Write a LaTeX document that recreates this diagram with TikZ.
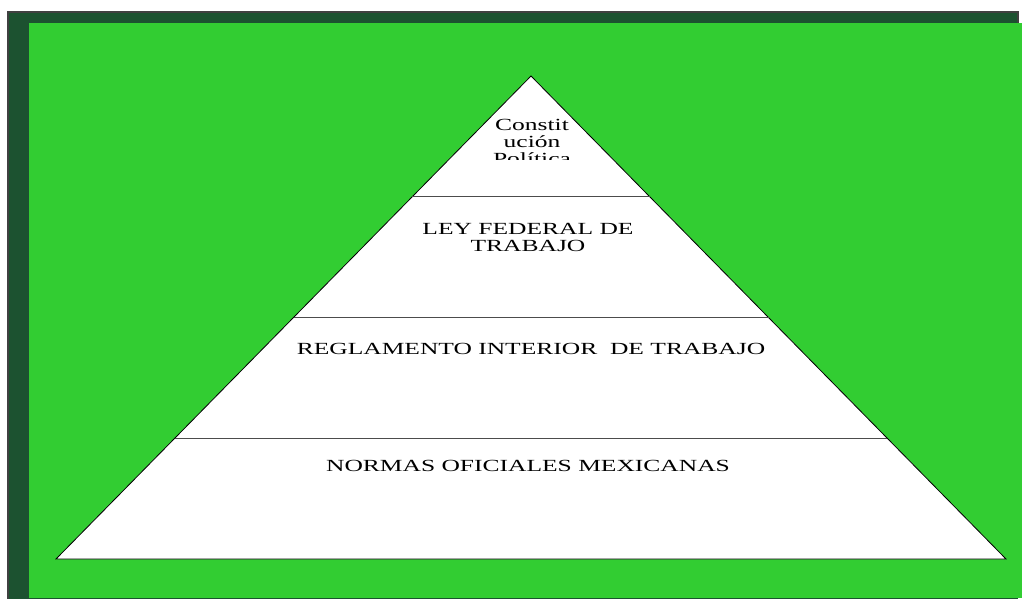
\documentclass[tikz,border=0pt]{standalone}
\usepackage{fontspec}
\setmainfont{Liberation Serif}
\newfontfamily\widefont{Liberation Serif}[FakeStretch=1.5]
\usetikzlibrary{calc}
\definecolor{slidegreen}{RGB}{50,205,50}
\definecolor{marble}{RGB}{28,82,48}

\begin{document}
\begin{tikzpicture}[x=1pt,y=-1pt,
    tier/.style={draw=black,fill=white,line width=0.8pt},
    tierline/.style={draw=black!70,line width=1.2pt},
    tiertext/.style={font=\widefont\fontsize{17}{17}\selectfont,align=center,anchor=north,inner sep=0pt}]
                \useasboundingbox (0,0) rectangle (1022,598);
                % slide frame
                \fill[marble] (8,12) rectangle (1018,600);
                \draw[black!75,line width=1.2pt] (8,600) -- (8,12) -- (1018,12) -- (1018,23);
                \fill[slidegreen] (29,23) rectangle (1022,598);

                \coordinate (T) at (531,76);
                \coordinate (L) at (56,559);
                \coordinate (R) at (1006,559);
                \foreach \f [count=\i] in {0.25,0.5,0.75} {
                    \coordinate (L\i) at ($(T)!\f!(L)$);
                    \coordinate (R\i) at ($(T)!\f!(R)$);
                }

                \draw[tier] (T)-- (L)-- (R)-- cycle;
                \draw[tierline] (L1)-- (R1);
                \draw[tierline] (L2)-- (R2);
                \draw[tierline] (L3)-- (R3);

                \begin{scope}
                    \clip (400,100) rectangle (660,159);
                    \node[tiertext] (constitucion) at (532,119) {Constit\\ución\\Política};
                \end{scope}
                \node[tiertext] (ley) at (528,223) {LEY FEDERAL DE\\TRABAJO};
                \node[tiertext] (reglamento) at (531,343) {REGLAMENTO INTERIOR\ \ DE TRABAJO};
                \node[tiertext] (normas) at (528,460) {NORMAS OFICIALES MEXICANAS};
\end{tikzpicture}
\end{document}
